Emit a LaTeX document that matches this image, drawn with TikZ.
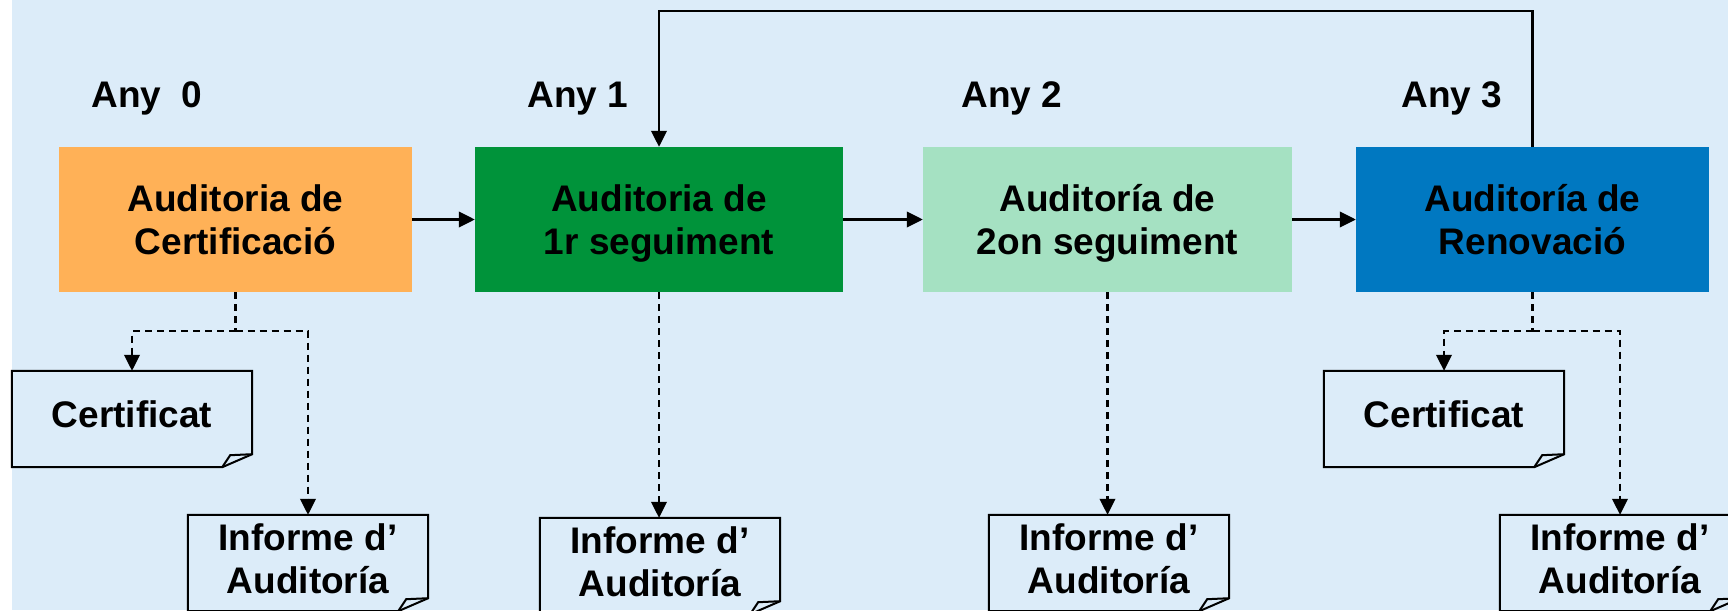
\documentclass[tikz,border=0pt]{standalone}
\usepackage{fontspec}
\setmainfont{Liberation Sans}
\usetikzlibrary{arrows.meta}
\definecolor{bgc}{HTML}{DCECF9}
\definecolor{orangec}{HTML}{FFB157}
\definecolor{greenc}{HTML}{00933A}
\definecolor{lgreenc}{HTML}{A5E1C2}
\definecolor{bluec}{HTML}{0078C1}
\begin{document}
\begin{tikzpicture}[x=1pt,y=-1pt,
  txt/.style={font=\fontsize{37}{43}\selectfont\bfseries, inner sep=0pt, align=center, text=black},
  audit/.style={txt, minimum height=145pt, text height=70pt, text depth=1pt},
  docbox/.style={txt, minimum width=240pt, minimum height=96pt},
  certdoc/.style={docbox, text height=27pt, text depth=11pt},
  infodoc/.style={docbox, text height=70pt, text depth=10pt},
  link/.style={line width=2.2pt, draw=black},
  tip/.style={-{Triangle[length=16pt,width=15.5pt]}},
  dashlink/.style={link, line width=2.2pt, dash pattern=on 7pt off 5pt},
  outline/.style={line width=2pt, line join=miter, draw=black}]
\useasboundingbox (0,0) rectangle (1728,610);
\clip (0,0) rectangle (1728,610);
\fill[bgc] (12,0) rectangle (1728,610);

% year labels
\node[txt, anchor=base] (y0) at (147,107) {Any\ \ 0};
\node[txt, anchor=base] (y1) at (578,107) {Any 1};
\node[txt, anchor=base] (y2) at (1012,107) {Any 2};
\node[txt, anchor=base] (y3) at (1452,107) {Any 3};

% audit boxes
\node[audit, fill=orangec, minimum width=353pt] (a0) at (235.5,219.5) {Auditoria de\\Certificació};
\node[audit, fill=greenc, minimum width=368pt] (a1) at (659,219.5) {Auditoria de\\1r seguiment};
\node[audit, fill=lgreenc, minimum width=369pt] (a2) at (1107.5,219.5) {Auditoría de\\2on seguiment};
\node[audit, fill=bluec, minimum width=353pt] (a3) at (1532.5,219.5) {Auditoría de\\Renovació};

% documents
\node[certdoc] (c1) at (132,419) {Certificat};
\node[infodoc] (i1) at (308,563) {Informe d’\\Auditoría};
\node[infodoc] (i2) at (660,566) {Informe d’\\Auditoría};
\node[infodoc] (i3) at (1109,563) {Informe d’\\Auditoría};
\node[certdoc] (c2) at (1444,419) {Certificat};
\node[infodoc] (i4) at (1620,563) {Informe d’\\Auditoría};

\foreach \n in {c1,i1,i2,i3,c2,i4} {
  \draw[outline] (\n.north west) -- (\n.north east) -- ([yshift=13pt]\n.south east)
     -- ([xshift=-30pt]\n.south east) -- (\n.south west) -- cycle;
  \draw[outline] ([xshift=-30pt]\n.south east) -- ([xshift=-22pt,yshift=12pt]\n.south east)
     -- ([yshift=13pt]\n.south east);
}

% solid arrows
\draw[link,tip] (a0.east) -- (a1.west);
\draw[link,tip] (a1.east) -- (a2.west);
\draw[link,tip] (a2.east) -- (a3.west);
\coordinate (top) at (0,11);
\draw[link,tip] (a3.north) -- (a3.north |- top) -- (a1.north |- top) -- (a1.north);

% dashed arrows
\coordinate (j0) at ([yshift=-39pt]a0.south);
\draw[dashlink] (a0.south) -- (j0);
\draw[dashlink,tip] (j0) -| (c1.north);
\draw[dashlink,tip] (j0) -| (i1.north);
\draw[dashlink,tip] (a1.south) -- (a1.south |- i2.north);
\draw[dashlink,tip] (a2.south) -- (a2.south |- i3.north);
\coordinate (j3) at ([yshift=-39pt]a3.south);
\draw[dashlink] (a3.south) -- (j3);
\draw[dashlink,tip] (j3) -| (c2.north);
\draw[dashlink,tip] (j3) -| (i4.north);
\end{tikzpicture}
\end{document}
